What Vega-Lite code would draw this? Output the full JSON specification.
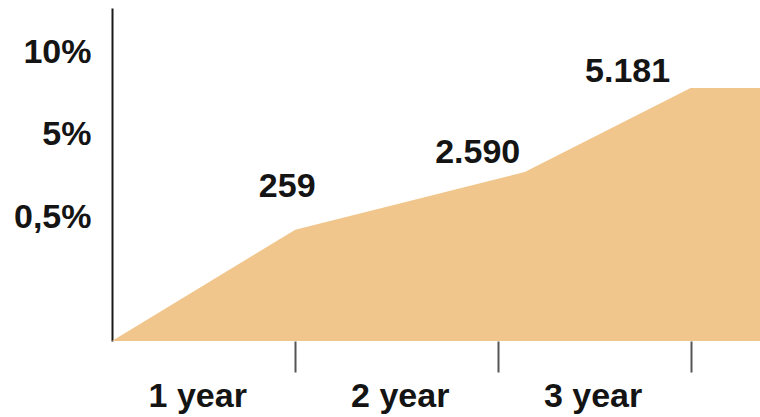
{
  "$schema": "https://vega.github.io/schema/vega-lite/v6.json",
  "width": 648,
  "height": 333,
  "autosize": {"type": "none"},
  "padding": {"left": 112, "top": 8, "right": 0, "bottom": 76},
  "background": "#ffffff",
  "config": {
    "view": {"stroke": null},
    "font": "Liberation Sans",
    "text": {"font": "Liberation Sans", "fontWeight": "bold", "fontSize": 34, "color": "#141414"}
  },
  "data": {
    "values": [
      {"year": 0, "level": 0, "label": ""},
      {"year": 0.95, "level": 1.35, "label": "259"},
      {"year": 2.14, "level": 2.05, "label": "2.590"},
      {"year": 3.0, "level": 3.07, "label": "5.181"},
      {"year": 3.36, "level": 3.07, "label": ""}
    ]
  },
  "encoding": {
    "x": {
      "field": "year",
      "type": "quantitative",
      "scale": {"domain": [0, 3.36], "nice": false, "zero": false},
      "axis": {
        "title": null,
        "domain": false,
        "grid": false,
        "values": [0.95, 2, 3],
        "ticks": true,
        "tickSize": 31,
        "tickWidth": 2,
        "tickColor": "#555555",
        "labelExpr": "datum.value < 1.5 ? '1 year' : datum.value < 2.5 ? '2 year' : '3 year'",
        "labelOffset": -98,
        "labelPadding": 7,
        "labelFont": "Liberation Sans",
        "labelFontWeight": "bold",
        "labelFontSize": 34,
        "labelColor": "#141414",
        "labelBound": false,
        "labelOverlap": false
      }
    },
    "y": {
      "field": "level",
      "type": "quantitative",
      "scale": {"domain": [0, 4.04], "nice": false},
      "axis": {
        "title": null,
        "grid": false,
        "ticks": false,
        "domain": true,
        "domainColor": "#1a1a1a",
        "domainWidth": 2,
        "values": [1.5, 2.5, 3.5],
        "labelExpr": "datum.value < 2 ? '0,5%' : datum.value < 3 ? '5%' : '10%'",
        "labelPadding": 21,
        "labelFont": "Liberation Sans",
        "labelFontWeight": "bold",
        "labelFontSize": 34,
        "labelColor": "#141414",
        "labelBaseline": "middle",
        "labelBound": false,
        "labelOverlap": false
      }
    }
  },
  "layer": [
    {
      "mark": {"type": "area", "color": "#F1C68D", "opacity": 1, "interpolate": "linear"}
    },
    {
      "transform": [{"filter": "datum.label == '259'"}],
      "mark": {"type": "text", "dx": -8, "dy": -43, "baseline": "middle", "align": "center"},
      "encoding": {"text": {"field": "label"}}
    },
    {
      "transform": [{"filter": "datum.label == '2.590'"}],
      "mark": {"type": "text", "dx": -47, "dy": -19, "baseline": "middle", "align": "center"},
      "encoding": {"text": {"field": "label"}}
    },
    {
      "transform": [{"filter": "datum.label == '5.181'"}],
      "mark": {"type": "text", "dx": -63, "dy": -16, "baseline": "middle", "align": "center"},
      "encoding": {"text": {"field": "label"}}
    }
  ]
}
